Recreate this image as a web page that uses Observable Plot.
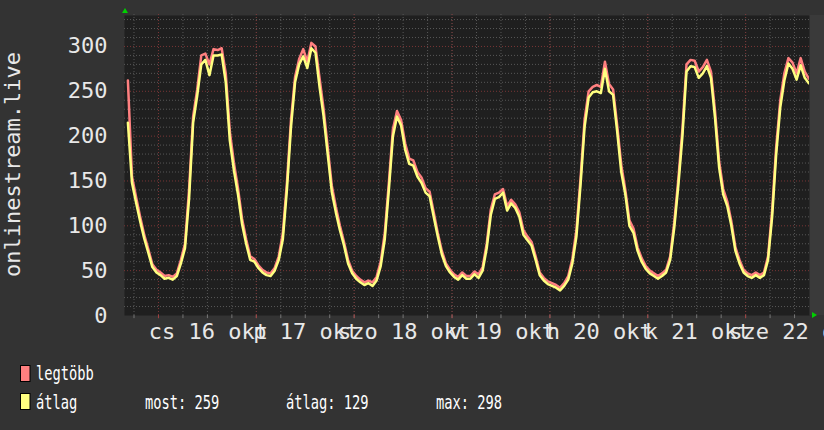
<!DOCTYPE html>
<html><head><meta charset="utf-8">
<script src="https://cdn.jsdelivr.net/npm/d3@7"></script>
<script src="https://cdn.jsdelivr.net/npm/@observablehq/plot@0.6"></script>
<style>
html,body{margin:0;padding:0;background:#333333;}
#chart{width:824px;height:430px;overflow:hidden;position:relative;}
</style></head><body><div id="chart"></div>
<script>
// ---- data (hourly means, first sample centred on 2025-10-15 16:30) ----
const seriesStart = Date.UTC(2025, 9, 15, 16, 30);
const avgValues = [
  215,148,126,105,86,70,54,48,
  45,41,42,40,44,58,75,130,215,245,280,285,268,290,290,291,260,195,162,135,102,80,62,60,
  53,48,45,44,50,62,85,140,210,260,280,289,276,298,293,255,222,180,138,115,95,78,58,47,
  41,37,34,36,33,39,55,85,140,200,222,212,185,169,167,155,148,137,133,110,88,68,55,48,
  43,40,45,41,41,46,42,50,75,112,130,132,137,117,125,120,110,90,84,78,62,45,39,35,
  33,31,28,33,40,58,88,145,210,243,249,250,248,275,250,246,205,160,135,100,92,72,60,52,
  47,44,41,44,48,62,98,145,200,272,278,277,265,270,278,265,220,165,135,122,100,72,58,48,
  44,42,45,42,45,62,110,180,232,262,281,275,263,279,265,259
];
const maxValues = [
  262,155,132,110,90,74,57,51,
  48,44,45,43,47,62,80,140,222,252,290,292,280,297,296,298,270,205,170,142,108,85,66,63,
  56,51,48,47,53,66,92,148,218,266,286,297,283,304,300,265,230,188,145,121,100,82,62,50,
  44,40,37,39,37,43,60,92,148,208,228,218,192,175,173,160,154,142,138,115,92,72,58,51,
  46,43,48,44,44,49,46,54,80,118,135,137,141,122,129,124,115,95,88,82,66,48,42,38,
  36,34,31,36,44,63,95,152,218,250,255,257,255,283,258,252,212,168,140,106,97,76,64,55,
  50,47,44,47,51,66,104,152,208,280,285,284,272,277,285,272,228,172,141,127,105,76,62,51,
  47,45,48,45,48,66,117,188,240,270,287,282,270,287,272,264
];
const yTicks = [0, 50, 100, 150, 200, 250, 300];
const dayLabels = ["cs 16 okt", "p 17 okt", "szo 18 okt", "v 19 okt", "h 20 okt", "k 21 okt", "sze 22 okt"];
const dayNumbers = [16, 17, 18, 19, 20, 21, 22];
const yTitle = "onlinestream.live";
const legendNames = ["legtöbb", "átlag"];
const legendColors = ["#ff8080", "#ffff80"];
const legendStats = ["most: 259", "átlag: 129", "max: 298"];

// ---- build tables ----
const HOUR = 3600 * 1000;
const toRows = vals => vals.map((v, i) => ({time: new Date(seriesStart + i * HOUR), value: v}));
const avgRows = toRows(avgValues);
const maxRows = toRows(maxValues);
const xDomain = [new Date(Date.UTC(2025, 9, 15, 15, 40)), new Date(Date.UTC(2025, 9, 22, 15, 40))];
const minorX = d3.utcHour.every(6).range(xDomain[0], xDomain[1]);
const majorX = d3.utcDay.range(xDomain[0], xDomain[1]);
const minorY = d3.range(10, 335, 10).filter(v => v % 50 !== 0);
const labelRows = dayLabels.map((t, i) => ({text: t, time: new Date(Date.UTC(2025, 9, dayNumbers[i], 12))}));

const FONT = "DejaVu Sans Mono";
const MINOR = "#575757";
const MAJOR = "#7a3636";

const chart = Plot.plot({
  width: 824, height: 430,
  marginLeft: 124, marginRight: 15, marginTop: 15, marginBottom: 115,
  style: {background: "transparent", fontFamily: FONT, color: "#e8e8e8", overflow: "visible"},
  x: {type: "utc", domain: xDomain, axis: null, label: null},
  y: {domain: [0, 334.5], axis: null, label: null},
  marks: [
    Plot.frame({fill: "#1f1f1f", stroke: null}),
    Plot.ruleY(minorY, {stroke: MINOR, strokeDasharray: "1,2", strokeWidth: 1}),
    Plot.ruleX(minorX, {y1: 0, y2: 336.5, stroke: MINOR, strokeDasharray: "1,2", strokeWidth: 1}),
    Plot.ruleY(yTicks.filter(v => v > 0), {stroke: MAJOR, strokeDasharray: "1,2", strokeWidth: 1}),
    Plot.ruleX(majorX, {y1: 0, y2: 336.5, stroke: MAJOR, strokeDasharray: "1,2", strokeWidth: 1}),
    Plot.ruleX(minorX, {y1: -3.5, y2: 0, stroke: "#777777", strokeWidth: 1}),
    Plot.ruleX(majorX, {y1: -3.5, y2: 0, stroke: "#a04040", strokeWidth: 1}),
    Plot.line(maxRows, {x: "time", y: "value", curve: "linear", stroke: legendColors[0], strokeWidth: 2.5, clip: true}),
    Plot.line(avgRows, {x: "time", y: "value", curve: "linear", stroke: legendColors[1], strokeWidth: 2.5, clip: true}),
    Plot.axisY({ticks: yTicks, tickSize: 0, tickPadding: 17, fontSize: 22, fill: "#e8e8e8", fontFamily: FONT, label: null}),
    Plot.text(labelRows, {x: "time", text: "text", frameAnchor: "bottom", dy: 16, dx: 1, lineAnchor: "middle", textAnchor: "middle", fontSize: 22, fill: "#e8e8e8", fontFamily: FONT}),
    Plot.text([yTitle], {text: d => d, frameAnchor: "left", dx: -112, dy: -1, rotate: -90, lineAnchor: "middle", textAnchor: "middle", fontSize: 22, fill: "#e8e8e8", fontFamily: FONT})
  ]
});

document.getElementById("chart").appendChild(chart);

// ---- decorations & legend drawn into the same svg ----
const svg = d3.select(chart);
svg.insert("rect", ":first-child").attr("x", 809).attr("y", 15).attr("width", 15).attr("height", 300).attr("fill", "#3a3a3a");
svg.insert("rect", ":first-child").attr("x", 0).attr("y", 0).attr("width", 824).attr("height", 430).attr("fill", "#333333");
svg.append("path").attr("d", "M122,13L128,13L125,8Z").attr("fill", "#00d000");
svg.append("path").attr("d", "M812,312L812,318L817,315Z").attr("fill", "#00d000");

const legend = svg.append("g").attr("font-family", FONT).attr("font-size", 18.8).attr("fill", "#ffffff").attr("text-anchor", "start");
const rowBase = [379.5, 409.3];
const rowTop = [365, 393];
legendNames.forEach((name, i) => {
  legend.append("rect").attr("x", 20.5).attr("y", rowTop[i] + 0.5).attr("width", 9.5).attr("height", 16)
    .attr("fill", legendColors[i]).attr("stroke", "#000").attr("stroke-width", 1);
  legend.append("text").attr("text-anchor", "start").attr("transform", `translate(36,${rowBase[i]}) scale(0.73,1)`).text(name);
});
const statX = [145, 286, 436];
legendStats.forEach((s, i) => {
  legend.append("text").attr("text-anchor", "start").attr("transform", `translate(${statX[i]},${rowBase[1]}) scale(0.73,1)`).text(s);
});
</script>
</body></html>
